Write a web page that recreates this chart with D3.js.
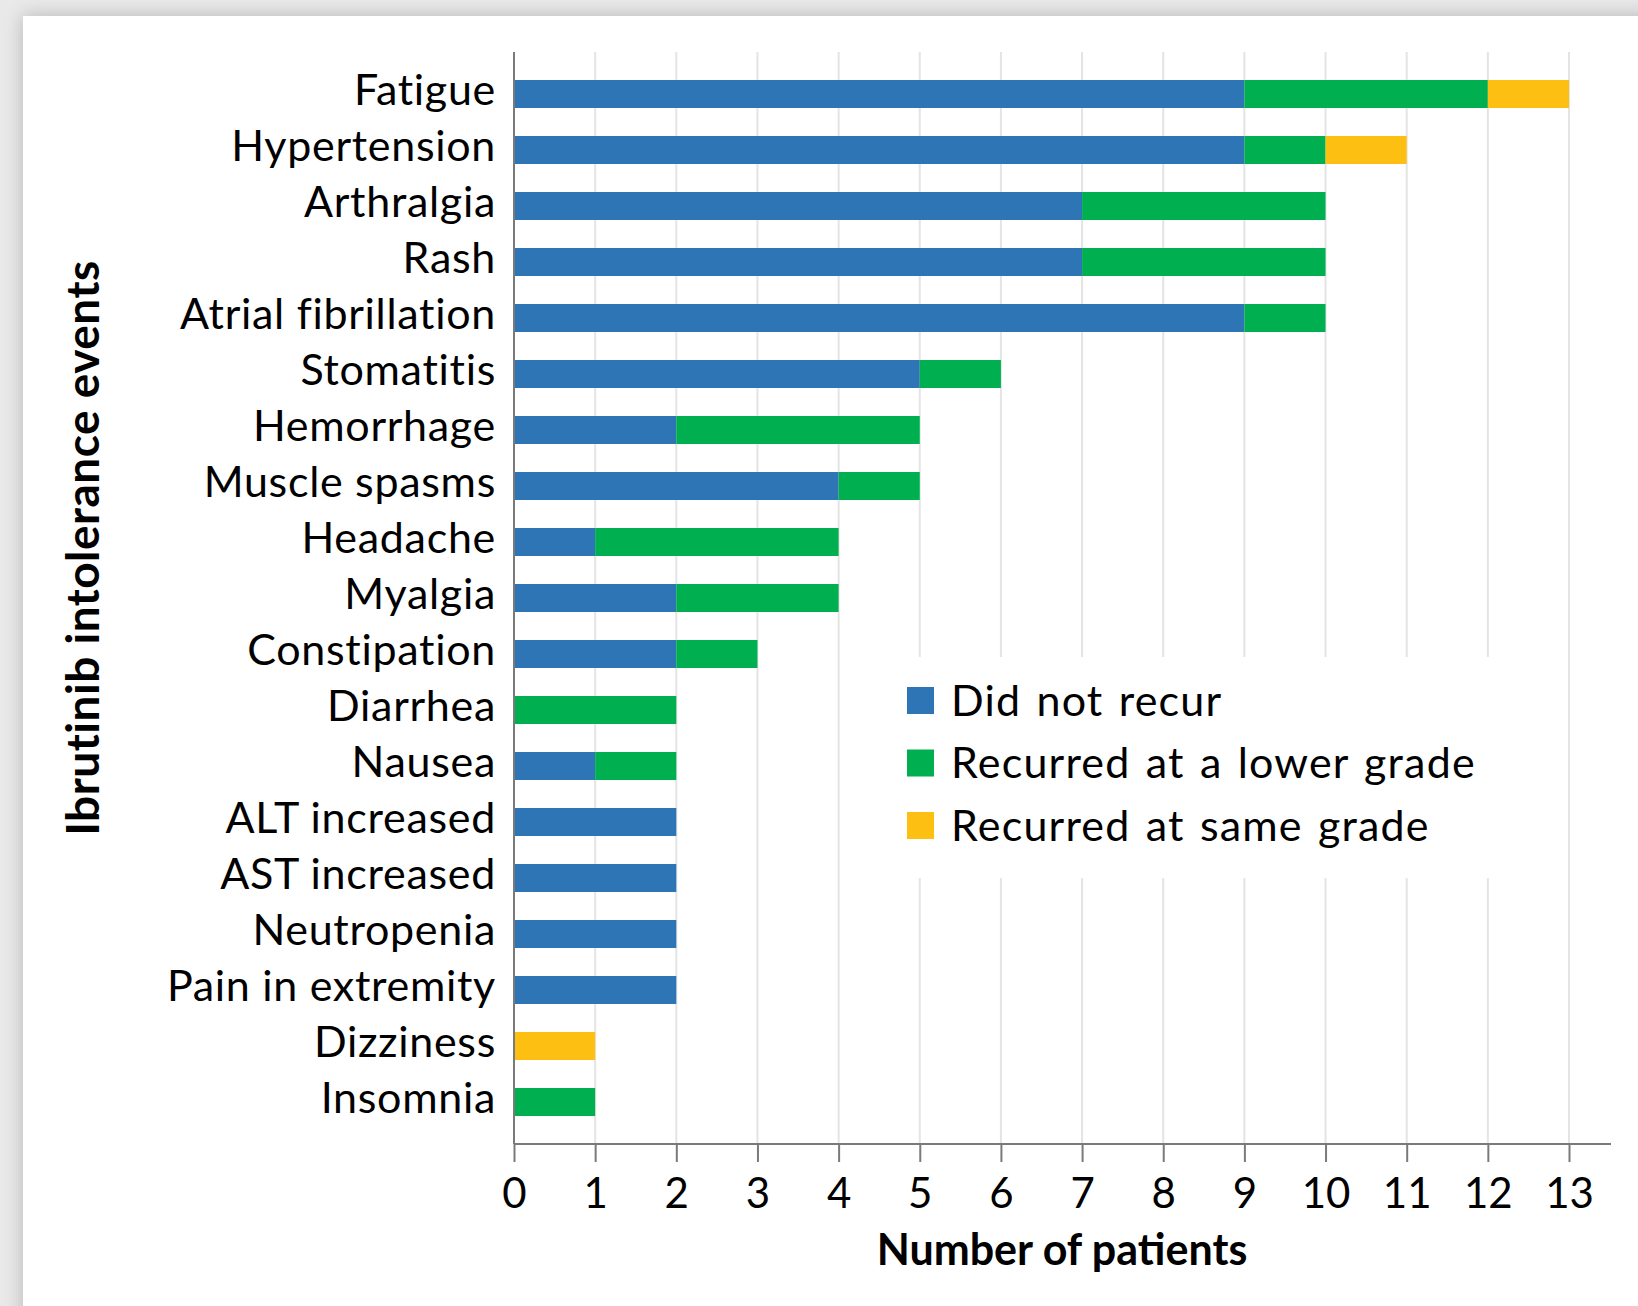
<!DOCTYPE html>
<html>
<head>
<meta charset="utf-8">
<script src="https://cdn.jsdelivr.net/npm/d3@7"></script>
<style>
  html, body { margin: 0; padding: 0; width: 1638px; height: 1306px; overflow: hidden; background: #e9e9e9; }
  #card { position: absolute; left: 23px; top: 16px; width: 1700px; height: 1400px; background: #fff;
          box-shadow: 0 0 18px rgba(0,0,0,0.22); }
  svg { position: absolute; left: 0; top: 0; }
  text { font-family: Lato, "Open Sans", sans-serif; fill: #000; }
</style>
</head>
<body>
<div id="card"></div>
<svg id="chart" width="1638" height="1306"></svg>
<script>
const categories = ["Fatigue","Hypertension","Arthralgia","Rash","Atrial fibrillation","Stomatitis","Hemorrhage","Muscle spasms","Headache","Myalgia","Constipation","Diarrhea","Nausea","ALT increased","AST increased","Neutropenia","Pain in extremity","Dizziness","Insomnia"];
const didNotRecur   = [9,9,7,7,9,5,2,4,1,2,2,0,1,2,2,2,2,0,0];
const recurredLower = [3,1,3,3,1,1,3,1,3,2,1,2,1,0,0,0,0,0,1];
const recurredSame  = [1,1,0,0,0,0,0,0,0,0,0,0,0,0,0,0,0,1,0];
const seriesNames = ["Did not recur","Recurred at a lower grade","Recurred at same grade"];
const seriesColors = ["#2e75b6","#00b050","#fdc012"];
const xTicks = [0,1,2,3,4,5,6,7,8,9,10,11,12,13];
const xTitle = "Number of patients";
const yTitle = "Ibrutinib intolerance events";

const svg = d3.select("#chart");
const x0 = 514, x13 = 1569, yTop = 52, yBot = 1144, xAxisEnd = 1611;

const x = d3.scaleLinear().domain([0, 13]).range([x0, x13]);
const y = d3.scaleBand().domain(categories).range([yTop, yBot]).paddingInner(0.5).paddingOuter(0.5);

const rows = categories.map((c, i) => ({cat: c, a: didNotRecur[i], b: recurredLower[i], c2: recurredSame[i]}));
const stack = d3.stack().keys(["a","b","c2"])(rows);

// gridlines
svg.append("g").selectAll("line").data(xTicks.filter(d => d > 0)).join("line")
  .attr("x1", d => x(d)).attr("x2", d => x(d))
  .attr("y1", yTop).attr("y2", yBot)
  .attr("stroke", "#e4e4e4").attr("stroke-width", 2);

// legend background
svg.append("rect").attr("x", 890).attr("y", 657).attr("width", 640).attr("height", 221).attr("fill", "#fff");

// bars
svg.append("g").selectAll("g").data(stack).join("g")
  .attr("fill", (d, i) => seriesColors[i])
  .selectAll("rect").data(d => d.filter(s => s[1] - s[0] > 0)).join("rect")
  .attr("x", d => x(d[0]))
  .attr("width", d => x(d[1]) - x(d[0]))
  .attr("y", d => y(d.data.cat))
  .attr("height", y.bandwidth());

// y axis
const yAxis = svg.append("g").attr("transform", `translate(${x0},0)`)
  .call(d3.axisLeft(y).tickSize(0).tickPadding(18));
yAxis.select(".domain").attr("stroke", "#7a7a7a").attr("stroke-width", 2).attr("d", `M0,${yTop}V${yBot}`);
yAxis.selectAll("text").attr("font-size", 43).attr("font-family", "Lato, sans-serif")
  .attr("letter-spacing", 0.7).attr("dy", "0.25em").attr("fill", "#000");

// x axis
const xAxis = svg.append("g").attr("transform", `translate(0,${yBot})`)
  .call(d3.axisBottom(x).tickValues(xTicks).tickSize(18).tickPadding(16).tickFormat(d3.format("d")));
xAxis.select(".domain").attr("stroke", "#7a7a7a").attr("stroke-width", 2).attr("d", `M${x0},0H${xAxisEnd}`);
xAxis.selectAll(".tick line").attr("stroke", "#7a7a7a").attr("stroke-width", 2);
xAxis.selectAll("text").attr("font-size", 42).attr("font-family", "Lato, sans-serif").attr("fill", "#000");

// titles
svg.append("text").attr("x", 1062).attr("y", 1265).attr("text-anchor", "middle")
  .attr("font-size", 43).attr("font-weight", "bold").text(xTitle);
svg.append("text").attr("transform", "translate(99,548) rotate(-90)").attr("text-anchor", "middle")
  .attr("font-size", 46).attr("font-weight", "bold").attr("letter-spacing", 0.5).text(yTitle);

// legend
const lg = svg.append("g").selectAll("g").data(seriesNames).join("g")
  .attr("transform", (d, i) => `translate(907,${687 + i * 62.5})`);
lg.append("rect").attr("width", 27).attr("height", 27).attr("fill", (d, i) => seriesColors[i]);
lg.append("text").attr("x", 44).attr("y", 13.5).attr("dy", "0.36em").attr("font-size", 43)
  .attr("letter-spacing", 1.2).attr("word-spacing", 3).text(d => d);
</script>
</body>
</html>
